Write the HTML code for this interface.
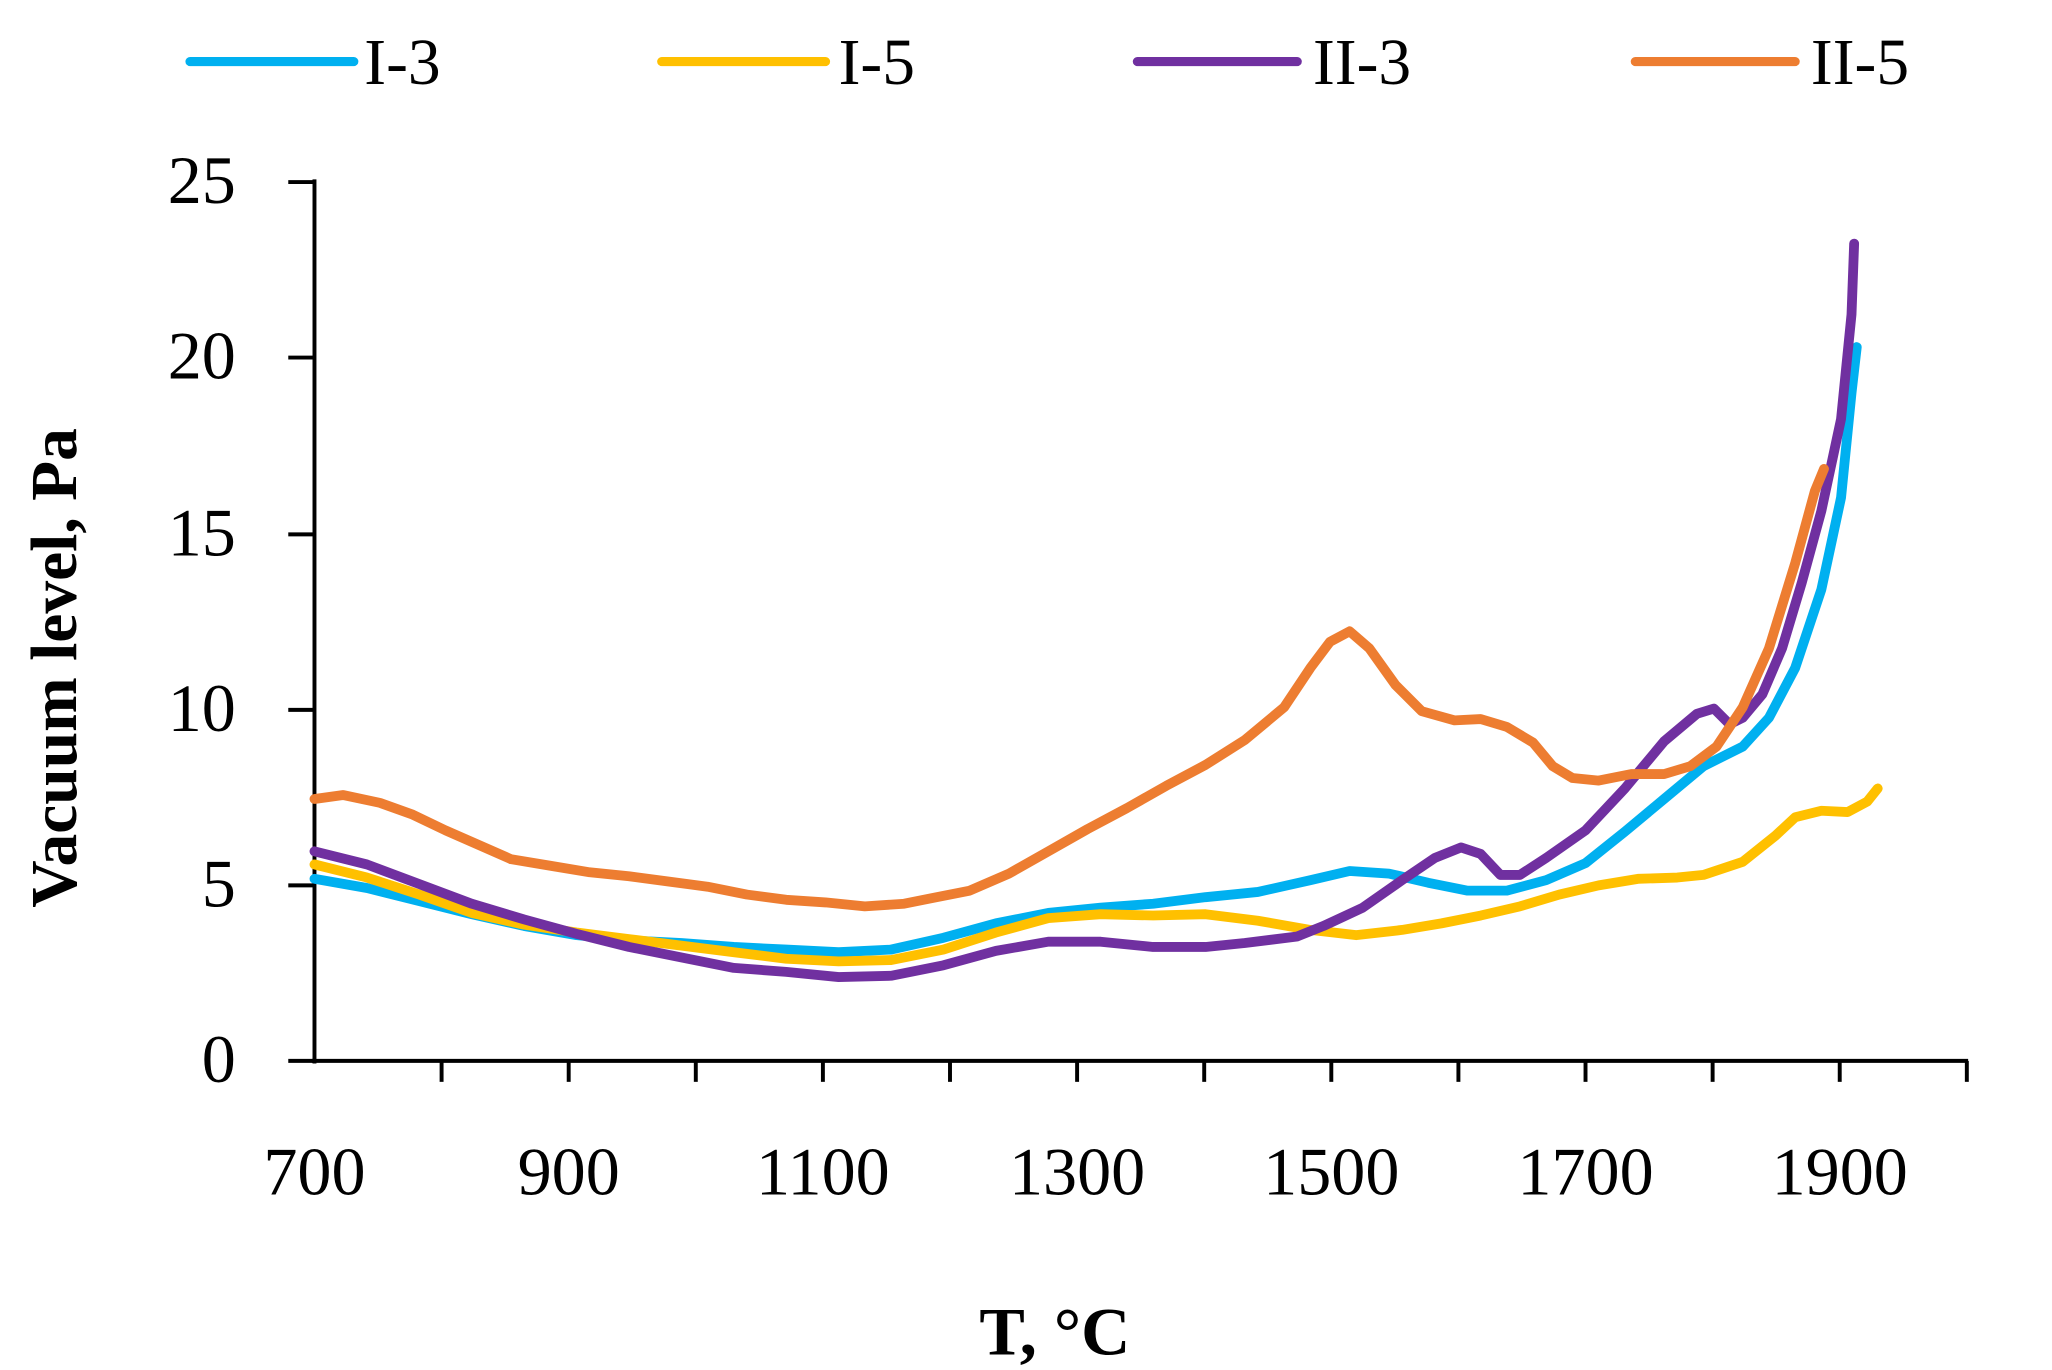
<!DOCTYPE html>
<html><head><style>html,body{margin:0;padding:0;background:#fff}svg{display:block}</style></head>
<body>
<svg width="2052" height="1370" viewBox="0 0 1566 1046" preserveAspectRatio="none" xmlns="http://www.w3.org/2000/svg" font-family="'Liberation Serif', serif">
<g stroke-linecap="round" stroke-width="7" fill="none">
<line x1="145" y1="47" x2="270" y2="47" stroke="#00b0f0"/>
<line x1="505" y1="47" x2="630" y2="47" stroke="#ffc000"/>
<line x1="868" y1="47" x2="990" y2="47" stroke="#7030a0"/>
<line x1="1248" y1="47" x2="1370" y2="47" stroke="#ed7d31"/>
</g>
<g font-size="50" fill="#000">
<text x="278" y="64">I-3</text><text x="640" y="64">I-5</text><text x="1002" y="64">II-3</text><text x="1382" y="64">II-5</text>
</g>
<g stroke="#000" stroke-width="3" fill="none">
<line x1="240" y1="137" x2="240" y2="812"/>
<line x1="238" y1="810" x2="1502" y2="810"/>
<line x1="220" y1="139" x2="240" y2="139"/><line x1="220" y1="273" x2="240" y2="273"/><line x1="220" y1="408" x2="240" y2="408"/><line x1="220" y1="542" x2="240" y2="542"/><line x1="220" y1="676" x2="240" y2="676"/><line x1="220" y1="810" x2="240" y2="810"/>
<line x1="337" y1="810" x2="337" y2="826"/><line x1="434" y1="810" x2="434" y2="826"/><line x1="531" y1="810" x2="531" y2="826"/><line x1="628" y1="810" x2="628" y2="826"/><line x1="725" y1="810" x2="725" y2="826"/><line x1="822" y1="810" x2="822" y2="826"/><line x1="919" y1="810" x2="919" y2="826"/><line x1="1016" y1="810" x2="1016" y2="826"/><line x1="1113" y1="810" x2="1113" y2="826"/><line x1="1210" y1="810" x2="1210" y2="826"/><line x1="1307" y1="810" x2="1307" y2="826"/><line x1="1404" y1="810" x2="1404" y2="826"/><line x1="1501" y1="810" x2="1501" y2="826"/>
</g>
<g font-size="52" text-anchor="end">
<text x="180" y="155">25</text><text x="180" y="289">20</text><text x="180" y="424">15</text><text x="180" y="558">10</text><text x="180" y="692">5</text><text x="180" y="826">0</text>
</g>
<g font-size="52" text-anchor="middle">
<text x="240" y="912">700</text><text x="434" y="912">900</text><text x="628" y="912">1100</text><text x="822" y="912">1300</text><text x="1016" y="912">1500</text><text x="1210" y="912">1700</text><text x="1404" y="912">1900</text>
</g>
<text x="805" y="1034" font-size="52" font-weight="bold" text-anchor="middle">T, °C</text>
<text transform="translate(58,510) rotate(-90)" font-size="50" font-weight="bold" text-anchor="middle">Vacuum level, Pa</text>
<g fill="none" stroke-width="7.5" stroke-linejoin="round" stroke-linecap="round">
<polyline stroke="#00b0f0" points="240,671 280,678 320,688 360,698 400,707 440,714 480,718 520,720 560,723 600,725 640,727 680,725 720,716 760,705 800,697 840,693 880,690 920,685 960,681 1000,672 1030,665 1060,667 1090,674 1120,680 1150,680 1180,672 1210,659 1240,635 1270,610 1300,585 1330,570 1350,548 1370,510 1390,450 1405,380 1413,300 1417,265"/>
<polyline stroke="#ffc000" points="240,660 280,670 320,683 360,697 400,706 440,712 480,717 520,722 560,727 600,732 640,734 680,733 720,725 760,712 800,701 840,698 880,699 920,698 960,703 1000,710 1035,714 1070,710 1100,705 1130,699 1160,692 1190,683 1220,676 1250,671 1280,670 1300,668 1330,658 1355,638 1370,624 1390,619 1410,620 1425,612 1433,602"/>
<polyline stroke="#7030a0" points="240,650 280,660 320,675 360,690 400,702 440,713 480,723 520,731 560,739 600,742 640,746 680,745 720,737 760,726 800,719 840,719 880,723 920,723 950,720 990,715 1010,707 1040,693 1070,672 1095,655 1115,647 1130,652 1145,668 1160,668 1180,655 1210,634 1240,602 1270,566 1295,545 1308,541 1320,553 1330,548 1345,530 1360,495 1375,445 1390,390 1405,320 1413,240 1415,186"/>
<polyline stroke="#ed7d31" points="240,610 262,607 290,613 315,622 340,634 365,645 390,656 420,661 450,666 480,669 510,673 540,677 570,683 600,687 630,689 660,692 690,690 710,686 740,680 770,667 800,650 830,633 860,617 890,600 920,584 950,565 980,540 1000,510 1015,490 1030,482 1045,495 1065,523 1085,543 1110,550 1130,549 1150,555 1170,567 1185,585 1200,594 1220,596 1245,591 1270,591 1290,585 1310,570 1330,540 1350,495 1370,430 1385,375 1392,358"/>
</g>
</svg>
</body></html>
